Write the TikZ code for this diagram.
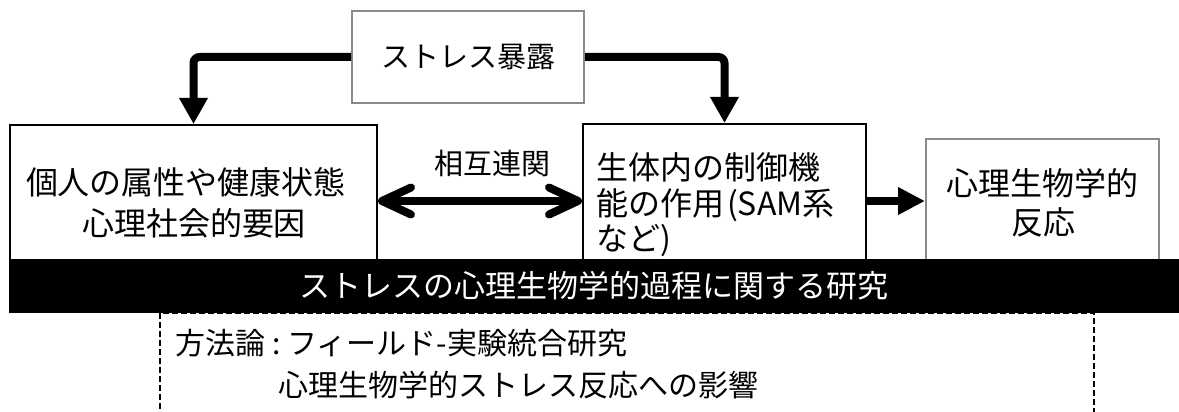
\documentclass[tikz,border=0pt]{standalone}
\usepackage{fontspec}
\setmainfont{Noto Sans CJK JP}
\usetikzlibrary{arrows.meta}
\definecolor{boxgray}{RGB}{138,138,138}
\begin{document}
\begin{tikzpicture}[x=1pt,y=-1pt,
  bbox/.style={draw=black, line width=2pt, inner sep=0pt, fill=white},
  gbox/.style={draw=boxgray, line width=2pt, inner sep=0pt, fill=white},
  dbox/.style={draw=black, line width=2pt, dash pattern=on 6pt off 3pt, inner sep=0pt},
  tA/.style={inner sep=0pt, anchor=base, font=\fontsize{32}{36}\selectfont},
  tAw/.style={inner sep=0pt, anchor=base west, font=\fontsize{32}{36}\selectfont},
  tB/.style={inner sep=0pt, anchor=base, font=\fontsize{29}{33}\selectfont},
  tC/.style={inner sep=0pt, anchor=base west, font=\fontsize{30}{34}\selectfont},
  conn/.style={line width=8pt, -{Triangle[width=27pt,length=26pt]}},
  conn2/.style={line width=8pt, -{Triangle[width=26pt,length=27pt]}},
  dbl/.style={line width=8pt, {Straight Barb[length=29pt,width=27pt,round]}-{Straight Barb[length=29pt,width=27pt,round]}},
]
\useasboundingbox (0,0) rectangle (1179,412);

% boxes
\node[gbox, minimum width=232pt, minimum height=92pt] (expo) at (468,57) {};
\node[bbox, minimum width=367pt, minimum height=135pt] (left) at (193.5,192.5) {};
\node[bbox, minimum width=283pt, minimum height=136pt] (mid) at (724.5,192) {};
\node[gbox, minimum width=233pt, minimum height=121pt] (right) at (1042.5,199.5) {};

% texts
\node[tB] (expoT) at (468,68) {ストレス暴露};
\node[tA] (leftT1) at (186,194) {個人の属性や健康状態};
\node[tA] (leftT2) at (194,235) {心理社会的要因};
\node[tAw] (midT1) at (596,179) {生体内の制御機};
\node[tAw] (midT2) at (596,215) {能の作用\hspace{3pt}(SAM系};
\node[tAw] (midT3) at (596,250) {など)};
\node[tA] (rightT1) at (1042.5,195) {心理生物学的};
\node[tA] (rightT2) at (1043,234) {反応};
\node[tB] (rel) at (492.5,174) {相互連関};

% connectors
\draw[conn, rounded corners=6pt] (expo.west) -| (left.north);
\draw[conn, rounded corners=6pt] (expo.east) -| (mid.north);
\draw[dbl] ([yshift=-8.5pt]left.east) -- ([yshift=-8.5pt]left.east -| mid.west);
\draw[conn2] ([yshift=-9pt]mid.east) -- ([yshift=-9pt]mid.east -| right.west);

% method box (dashed) and black bar
\node[dbox, minimum width=934pt, minimum height=112pt] (meth) at (627,369) {};
\node[tC] (methT1) at (175,354.5) {方法論\hspace{7pt}:\hspace{7pt}フィールド-実験統合研究};
\node[tC] (methT2) at (278,396.5) {心理生物学的ストレス反応への影響};
\node[fill=black, inner sep=0pt, minimum width=1170pt, minimum height=54pt,
      text=white, font=\fontsize{31}{35}\selectfont, text height=27.3pt, text depth=3.7pt] (bar) at (594,286) {ストレスの心理生物学的過程に関する研究};
\end{tikzpicture}
\end{document}
